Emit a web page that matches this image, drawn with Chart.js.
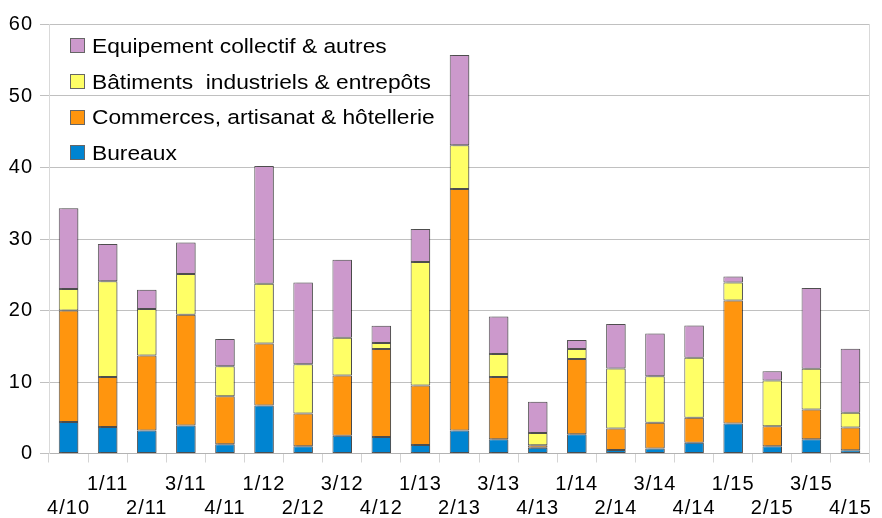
<!DOCTYPE html>
<html>
<head>
<meta charset="utf-8">
<script src="https://cdn.jsdelivr.net/npm/chart.js@4/dist/chart.umd.min.js"></script>
<style>
  html, body { margin: 0; padding: 0; background: #fff; }
  #wrap { position: relative; width: 882px; height: 518px; }
  #legend { position: absolute; left: 70px; top: 28px; font-family: "Liberation Sans", Arial, sans-serif; font-size: 20.5px; color: #000; }
  .item { height: 35.7px; display: flex; align-items: center; white-space: pre; }
  .box { width: 13px; height: 13px; border: 1px solid #666; margin-right: 7px; flex: none; }
  .txt { display: inline-block; transform: scaleX(1.11); transform-origin: left center; }
</style>
</head>
<body>
<div id="wrap">
  <canvas id="c" width="882" height="518"></canvas>
  <div id="legend"></div>
</div>
<script>
const categories = ['4/10','1/11','2/11','3/11','4/11','1/12','2/12','3/12','4/12','1/13','2/13','3/13','4/13','1/14','2/14','3/14','4/14','1/15','2/15','3/15','4/15'];
const seriesNames = ['Bureaux', 'Commerces, artisanat & hôtellerie', 'Bâtiments  industriels & entrepôts', 'Equipement collectif & autres'];
const bureaux    = [4.4, 3.7, 3.2, 3.9, 1.3, 6.7, 1.0, 2.5, 2.3, 1.2, 3.2, 2.0, 0.8, 2.7, 0.5, 0.7, 1.5, 4.2, 1.0, 2.0, 0.45];
const commerces  = [15.6, 7.0, 10.5, 15.5, 6.7, 8.7, 4.6, 8.4, 12.3, 8.3, 33.8, 8.7, 0.35, 10.5, 3.0, 3.6, 3.5, 17.2, 2.8, 4.15, 3.2];
const batiments  = [3.0, 13.4, 6.5, 5.7, 4.2, 8.35, 6.9, 5.3, 0.85, 17.3, 6.1, 3.2, 1.7, 1.4, 8.4, 6.5, 8.4, 2.5, 6.4, 5.7, 2.05];
const equipement = [11.3, 5.2, 2.7, 4.4, 3.8, 16.45, 11.4, 10.9, 2.4, 4.6, 12.65, 5.25, 4.4, 1.26, 6.2, 6.0, 4.5, 0.85, 1.3, 11.3, 8.95];
const yTicks = [0, 10, 20, 30, 40, 50, 60];
const colors = ['#0084d1', '#ff950e', '#ffff66', '#cc99cc'];

const labels = categories.map((c, i) => i % 2 === 0 ? ['', c] : [c, '']);
const values = [bureaux, commerces, batiments, equipement];

const spacing = {
  id: 'spacing',
  beforeUpdate(chart) { chart.ctx.letterSpacing = '1px'; },
  beforeDraw(chart) { chart.ctx.letterSpacing = '1px'; },
  beforeDatasetsDraw(chart) {
    const ctx = chart.ctx;
    ctx.save();
    ctx.shadowColor = 'rgba(0,0,0,0.22)';
    ctx.shadowOffsetX = 3;
    ctx.shadowOffsetY = 0;
    ctx.shadowBlur = 0;
  },
  afterDatasetsDraw(chart) { chart.ctx.restore(); }
};

const font = { family: '"Liberation Sans", Arial, sans-serif', size: 20 };

const chart = new Chart(document.getElementById('c'), {
  type: 'bar',
  data: {
    labels: labels,
    datasets: values.map((v, i) => ({
      label: seriesNames[i],
      data: v,
      backgroundColor: colors[i],
      borderColor: 'rgba(0,0,0,0.65)',
      borderWidth: 1,
      borderSkipped: false,
      barPercentage: 0.5,
      categoryPercentage: 1.0
    }))
  },
  options: {
    responsive: false,
    animation: false,
    layout: { padding: { top: 24.5, left: 0, right: 0, bottom: 0 } },
    plugins: { legend: { display: false }, tooltip: { enabled: false } },
    scales: {
      x: {
        stacked: true,
        offset: true,
        grid: { offset: true, drawOnChartArea: false, tickLength: 9, color: '#d4d4d4' },
        border: { display: true, color: '#b3b3b3' },
        ticks: { color: '#000', font: font, padding: 10, maxRotation: 0, autoSkip: false, lineHeight: 1.2 },
        afterFit(s) { s.height = 64.5; }
      },
      y: {
        stacked: true,
        min: 0, max: 60,
        afterBuildTicks(s) { s.ticks = yTicks.map(v => ({ value: v })); },
        grid: { color: '#c0c0c0', tickLength: 9 },
        border: { display: true, color: '#d9d9d9' },
        ticks: { color: '#000', font: font, padding: 7 },
        afterFit(s) { s.width = 49; }
      },
      y1: {
        position: 'right',
        min: 0, max: 60,
        grid: { display: false, drawTicks: false },
        border: { display: true, color: '#d9d9d9' },
        ticks: { display: false },
        afterFit(s) { s.width = 4; }
      }
    }
  },
  plugins: [spacing]
});

const lg = document.getElementById('legend');
for (let i = seriesNames.length - 1; i >= 0; i--) {
  const d = document.createElement('div');
  d.className = 'item';
  const b = document.createElement('span');
  b.className = 'box';
  b.style.background = colors[i];
  const t = document.createElement('span');
  t.className = 'txt';
  t.textContent = seriesNames[i];
  d.appendChild(b); d.appendChild(t);
  lg.appendChild(d);
}
</script>
</body>
</html>
